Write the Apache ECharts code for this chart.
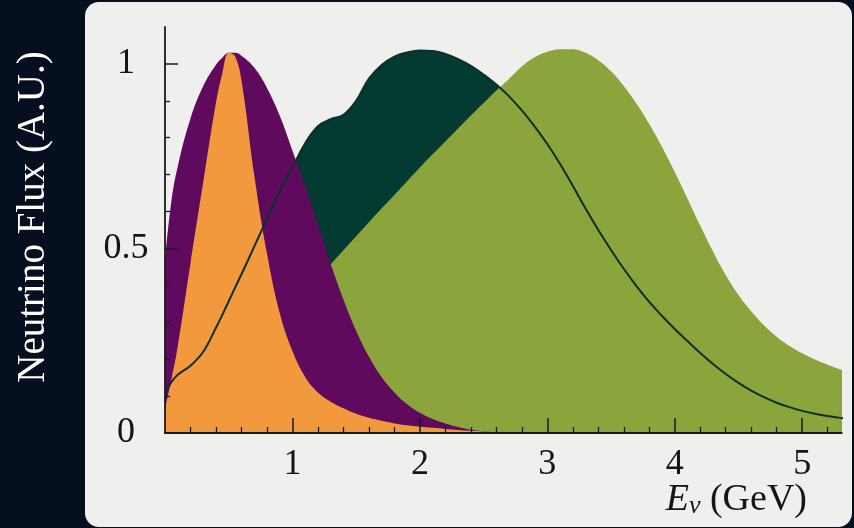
<!DOCTYPE html>
<html>
<head>
<meta charset="utf-8">
<script src="https://cdn.jsdelivr.net/npm/echarts@6/dist/echarts.min.js"></script>
<style>
  html, body { margin: 0; padding: 0; background: #060f1f; }
  #chart { width: 854px; height: 528px; }
</style>
</head>
<body>
<div id="chart"></div>
<script>
// Neutrino energy (GeV)
const energy = [0, 0.05, 0.1, 0.2, 0.3, 0.4, 0.45, 0.5, 0.55, 0.6, 0.7, 0.8, 0.9, 1.0, 1.1, 1.2, 1.3, 1.4, 1.5,
  1.6, 1.7, 1.8, 1.9, 2.0, 2.1, 2.2, 2.3, 2.4, 2.5, 2.6, 2.7, 2.8, 2.9, 3.0, 3.1, 3.2, 3.3, 3.4, 3.5,
  3.6, 3.7, 3.8, 3.9, 4.0, 4.1, 4.2, 4.3, 4.4, 4.5, 4.6, 4.7, 4.8, 4.9, 5.0, 5.1, 5.2, 5.3, 5.4];

// Flux curves (arbitrary units)
const fluxPurple = [0.47, 0.628, 0.722, 0.852, 0.94, 0.998, 1.017, 1.03, 1.03, 1.022, 0.99, 0.935, 0.86, 0.765, 0.668, 0.565, 0.458, 0.362, 0.277,
  0.207, 0.151, 0.11, 0.078, 0.055, 0.038, 0.026, 0.016, 0.009, 0.005, 0.002, 0, 0, 0, 0, 0, 0, 0, 0, 0,
  0, 0, 0, 0, 0, 0, 0, 0, 0, 0, 0, 0, 0, 0, 0, 0, 0, 0, 0];

const fluxOrange = [0.065, 0.145, 0.235, 0.46, 0.68, 0.895, 0.975, 1.03, 1.02, 0.955, 0.70, 0.487, 0.325, 0.222, 0.152, 0.11, 0.085, 0.067, 0.052,
  0.041, 0.033, 0.026, 0.021, 0.017, 0.014, 0.011, 0.008, 0.006, 0.004, 0.002, 0, 0, 0, 0, 0, 0, 0, 0, 0,
  0, 0, 0, 0, 0, 0, 0, 0, 0, 0, 0, 0, 0, 0, 0, 0, 0, 0, 0];

const fluxDarkGreen = [0.108, 0.138, 0.158, 0.182, 0.22, 0.285, 0.32, 0.357, 0.394, 0.43, 0.505, 0.58, 0.655, 0.72, 0.785, 0.831, 0.85, 0.862, 0.9,
  0.96, 0.997, 1.02, 1.031, 1.036, 1.035, 1.027, 1.013, 0.995, 0.971, 0.944, 0.912, 0.874, 0.831, 0.783, 0.729, 0.67, 0.608, 0.55, 0.496,
  0.445, 0.398, 0.355, 0.317, 0.282, 0.249, 0.217, 0.187, 0.16, 0.136, 0.115, 0.097, 0.082, 0.07, 0.06, 0.052, 0.046, 0.041, 0.037];

const fluxLightGreen = [0.005, 0.012, 0.02, 0.045, 0.075, 0.11, 0.13, 0.15, 0.17, 0.19, 0.23, 0.268, 0.306, 0.344, 0.382, 0.42, 0.457, 0.495, 0.533,
  0.571, 0.609, 0.645, 0.682, 0.719, 0.755, 0.79, 0.825, 0.86, 0.894, 0.928, 0.96, 0.993, 1.018, 1.033, 1.04, 1.04, 1.03, 1.01, 0.98,
  0.94, 0.892, 0.837, 0.775, 0.707, 0.635, 0.562, 0.492, 0.428, 0.374, 0.33, 0.292, 0.261, 0.236, 0.216, 0.199, 0.185, 0.172, 0.161];

// Tick labels
const xTickValues = [1, 2, 3, 4, 5];
const yTickValues = [0, 0.5, 1];

const pairs = (ys) => energy.map((x, i) => [x, ys[i]]);

const SERIF = '"Liberation Serif", "DejaVu Serif", serif';
const AXIS_COLOR = '#1a1a1a';
const TEXT_COLOR = '#151515';

const chart = echarts.init(document.getElementById('chart'), null, { renderer: 'canvas' });

chart.setOption({
  backgroundColor: '#060f1f',
  animation: false,
  grid: { left: 165, right: 12.3, top: 27, bottom: 95, containLabel: false },
  xAxis: {
    type: 'value', min: 0, max: 5.31, interval: 1, z: 10,
    axisLine: { show: true, onZero: false, lineStyle: { color: AXIS_COLOR, width: 1.8 } },
    axisTick: { show: true, inside: true, length: 15, customValues: xTickValues, lineStyle: { color: AXIS_COLOR, width: 1.5 } },
    minorTick: { show: true, splitNumber: 5, length: 6, lineStyle: { color: AXIS_COLOR, width: 1.3 } },
    axisLabel: { customValues: xTickValues, fontSize: 36, fontFamily: SERIF, color: TEXT_COLOR, margin: 14 },
    splitLine: { show: false }, minorSplitLine: { show: false }
  },
  yAxis: {
    type: 'value', min: 0, max: 1.1, interval: 0.5, z: 10,
    axisLine: { show: true, onZero: false, lineStyle: { color: AXIS_COLOR, width: 1.8 } },
    axisTick: { show: true, inside: true, length: 13, customValues: yTickValues, lineStyle: { color: AXIS_COLOR, width: 1.5 } },
    minorTick: { show: true, splitNumber: 5, length: 5, lineStyle: { color: AXIS_COLOR, width: 1.3 } },
    axisLabel: { customValues: yTickValues, fontSize: 36, fontFamily: SERIF, color: TEXT_COLOR, margin: 39, align: 'center' },
    splitLine: { show: false }, minorSplitLine: { show: false }
  },
  graphic: [
    { type: 'rect', z: -100, shape: { x: 85, y: 2, width: 767, height: 525, r: 14 }, style: { fill: '#efefed' } },
    { type: 'text', z: 100, x: 34, y: 217, rotation: Math.PI / 2,
      style: { text: 'Neutrino Flux (A.U.)', fill: '#ffffff', fontSize: 39, fontFamily: SERIF, align: 'center', verticalAlign: 'middle' } },
    { type: 'text', z: 100, x: 807, y: 500,
      style: {
        text: '{e|E}{s|ν}{n| (GeV)}', fill: TEXT_COLOR, align: 'right', verticalAlign: 'middle', fontSize: 38, fontFamily: SERIF,
        rich: {
          e: { fontSize: 38, fontFamily: SERIF, fontStyle: 'italic', fill: TEXT_COLOR, lineHeight: 38 },
          s: { fontSize: 26, fontFamily: SERIF, fontStyle: 'italic', fill: TEXT_COLOR, lineHeight: 16, verticalAlign: 'bottom' },
          n: { fontSize: 38, fontFamily: SERIF, fill: TEXT_COLOR, lineHeight: 38 }
        }
      } }
  ],
  series: [
    { name: 'darkGreenArea', type: 'line', data: pairs(fluxDarkGreen), smooth: 0.4, showSymbol: false,
      lineStyle: { width: 0 }, areaStyle: { color: '#033a31', opacity: 1 }, z: 2 },
    { name: 'lightGreen', type: 'line', data: pairs(fluxLightGreen), smooth: 0.4, showSymbol: false,
      lineStyle: { width: 0 }, areaStyle: { color: '#8ba53c', opacity: 1 }, z: 2 },
    { name: 'purple', type: 'line', data: pairs(fluxPurple), smooth: 0.4, showSymbol: false,
      lineStyle: { width: 0 }, areaStyle: { color: '#600a5e', opacity: 1 }, z: 2 },
    { name: 'orange', type: 'line', data: pairs(fluxOrange), smooth: 0.4, showSymbol: false,
      lineStyle: { width: 0 }, areaStyle: { color: '#f2993d', opacity: 1 }, z: 2 },
    { name: 'darkGreenLine', type: 'line', data: pairs(fluxDarkGreen), smooth: 0.4, showSymbol: false,
      lineStyle: { width: 2, color: '#0d2f2c' }, z: 3 }
  ]
});
</script>
</body>
</html>
